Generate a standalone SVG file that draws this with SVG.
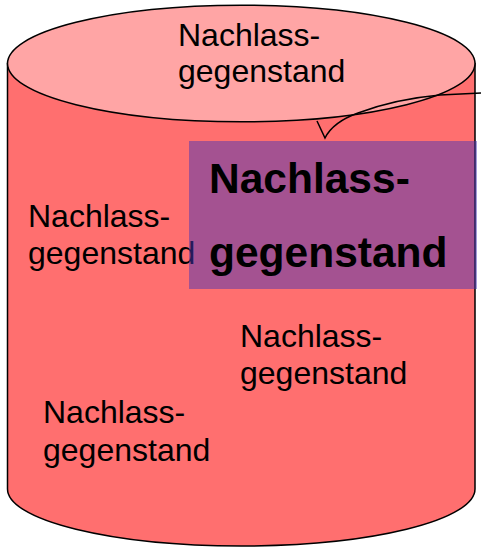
<svg xmlns="http://www.w3.org/2000/svg" width="481" height="547" viewBox="0 0 481 547">
<style>
.t{font-family:"Liberation Sans",Arial,sans-serif;font-size:32px;fill:#000}
.b{font-family:"Liberation Sans",Arial,sans-serif;font-size:42.5px;font-weight:bold;fill:#000}
.ln{fill:none;stroke:#000;stroke-width:1.5}
</style>
<rect width="481" height="547" fill="#fff"/>
<g id="cylinder">
<path d="M7.5 63.5 L7.5 489 A233.75 57 0 0 0 475 489 L475 63.5 Z" fill="#FF6F6F" stroke="#000" stroke-width="1.5"/>
<ellipse cx="241.25" cy="63.5" rx="233.75" ry="58.3" fill="#FFA5A5" stroke="#000" stroke-width="1.5"/>
<text class="t" x="178" y="46">Nachlass-</text>
<text class="t" x="178" y="82">gegenstand</text>
</g>
<g id="connectors">
<path class="ln" d="M317 121 L325 138 Q333 122 358 113 Q395 99 440 95 L481 93"/>
</g>
<g id="item-left">
<text class="t" x="28" y="227">Nachlass-</text>
<text class="t" x="28" y="264">gegenstand</text>
</g>
<g id="item-middle">
<text class="t" x="240" y="347">Nachlass-</text>
<text class="t" x="240" y="384">gegenstand</text>
</g>
<g id="item-bottom">
<text class="t" x="43" y="423">Nachlass-</text>
<text class="t" x="43" y="461">gegenstand</text>
</g>
<g id="callout">
<rect x="189" y="141" width="288" height="148" fill="#4935B3" fill-opacity="0.5"/>
<text class="b" x="209" y="193">Nachlass-</text>
<text class="b" x="209" y="267">gegenstand</text>
</g>
</svg>
